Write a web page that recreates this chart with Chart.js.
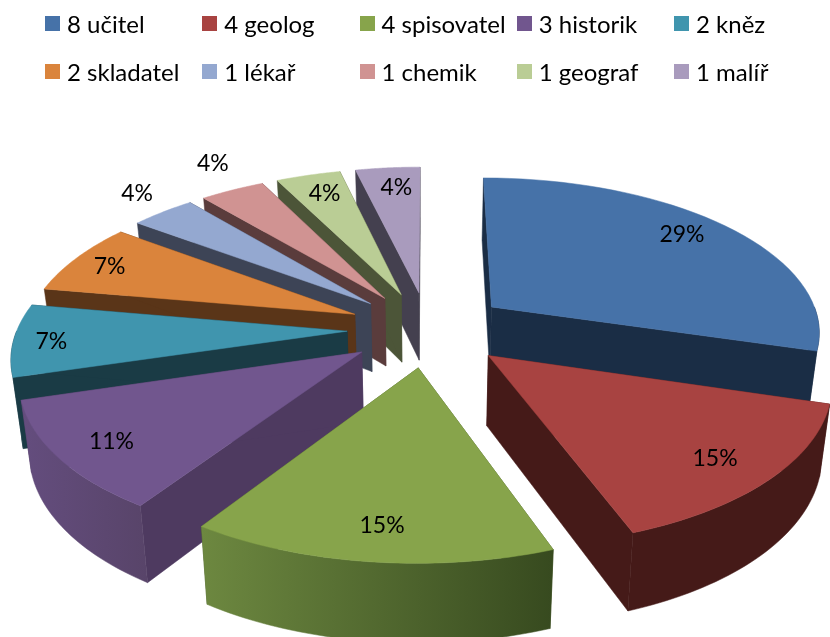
<!DOCTYPE html>
<html>
<head>
<meta charset="utf-8">
<style>
  body { margin: 0; background: #fff; }
  #wrap { position: relative; width: 830px; height: 637px; overflow: hidden; }
  #pie { position: absolute; left: 0; top: 0; }
  #legend { position: absolute; left: 45px; top: -1px; display: grid; grid-template-columns: repeat(5, 157.25px); grid-auto-rows: 48px;
    font: 24px Lato, sans-serif; color: #000; }
  #legend div { display: flex; align-items: center; white-space: nowrap; }
  #legend i { width: 15px; height: 15px; margin-right: 7px; flex: none; }
</style>
<script src="https://cdn.jsdelivr.net/npm/chart.js@4/dist/chart.umd.min.js"></script>
</head>
<body>
<div id="wrap">
  <canvas id="pie" width="830" height="637"></canvas>
  <div id="legend"></div>
</div>
<script>
// data
const categories = ['učitel', 'geolog', 'spisovatel', 'historik', 'kněz', 'skladatel', 'lékař', 'chemik', 'geograf', 'malíř'];
const counts = [8, 4, 4, 3, 2, 2, 1, 1, 1, 1];
const percentLabels = ['29%', '15%', '15%', '11%', '7%', '7%', '4%', '4%', '4%', '4%'];

// colours: top face, side walls, rim gradient left and right
const topColors = ['#4672A8', '#A84341', '#87A44B', '#71568E', '#4095AE', '#DA843C', '#94A8D0', '#D09392', '#BACD95', '#A99BBD'];
const wallColors = ['#1A2D45', '#451A18', '#445626', '#4E3A60', '#1A3B45', '#5A3518', '#3D4456', '#5A3C3C', '#4C5538', '#44404F'];
const rimLeft = ['#1A2D45', '#451A18', '#6D8840', '#644D7E', '#1A3B45', '#5A3518', '#3D4456', '#5A3C3C', '#4C5538', '#44404F'];
const rimRight = ['#1A2D45', '#451A18', '#374A1F', '#584469', '#1A3B45', '#5A3518', '#3D4456', '#5A3C3C', '#4C5538', '#44404F'];

// where each percent label sits: distance along the middle line and a small turn off it
const labelRadius = [0.835, 0.831, 0.836, 0.844, 0.886, 0.867, 1.183, 1.247, 0.825, 0.824];
const labelTurn = [-0.04, 0.014, -0.01, -0.014, -0.017, -0.015, 0.032, 0.043, 0.008, 0.016];

// view settings of the tilted pie
const explode = 0.245;
const widthScale = 1.071;
const tilt = 0.5;
const focal = 6.8;
const depth = 69;

// plane point (in radius units) -> screen, z = 1 is the bottom of the pie
function project(arc, u, v, z) {
  const s = 1 / (1 - v / focal);
  const x = u * arc.outerRadius * widthScale * s * (1 - 0.025 * z);
  const y = v * arc.outerRadius * tilt * s;
  return { x: arc.x + x, y: arc.y + y + z * (depth + 0.045 * y) };
}

function apexOf(arc) {
  const mid = (arc.startAngle + arc.endAngle) / 2;
  return { u: Math.cos(mid) * explode, v: Math.sin(mid) * explode, mid: mid };
}

function rimPoints(arc, a0, a1, z) {
  const c = apexOf(arc);
  const pts = [];
  for (let i = 0; i <= 40; i++) {
    const a = a0 + (a1 - a0) * i / 40;
    pts.push(project(arc, c.u + Math.cos(a), c.v + Math.sin(a), z));
  }
  return pts;
}

function fillPoly(ctx, pts, color) {
  ctx.beginPath();
  pts.forEach((p, i) => (i ? ctx.lineTo(p.x, p.y) : ctx.moveTo(p.x, p.y)));
  ctx.closePath();
  ctx.fillStyle = color;
  ctx.fill();
  ctx.strokeStyle = color;
  ctx.lineWidth = 0.5;
  ctx.stroke();
}

function drawSlice(ctx, arc, i) {
  const c = apexOf(arc);
  const topApex = project(arc, c.u, c.v, 0);
  const bottomApex = project(arc, c.u, c.v, 1);
  const topRim = rimPoints(arc, arc.startAngle, arc.endAngle, 0);
  const bottomRim = rimPoints(arc, arc.startAngle, arc.endAngle, 1);

  // radial walls
  fillPoly(ctx, [topApex, topRim[0], bottomRim[0], bottomApex], wallColors[i]);
  fillPoly(ctx, [topApex, topRim[40], bottomRim[40], bottomApex], wallColors[i]);

  // rim, only the part turned to the viewer
  const a0 = Math.max(arc.startAngle, 0);
  const a1 = Math.min(arc.endAngle, Math.PI);
  if (a1 > a0) {
    const upper = rimPoints(arc, a0, a1, 0);
    const lower = rimPoints(arc, a0, a1, 1).reverse();
    const xs = upper.concat(lower).map(p => p.x);
    const grad = ctx.createLinearGradient(Math.min(...xs), 0, Math.max(...xs), 0);
    grad.addColorStop(0, rimLeft[i]);
    grad.addColorStop(1, rimRight[i]);
    fillPoly(ctx, upper.concat(lower), grad);
  }

  // top face
  fillPoly(ctx, [topApex].concat(topRim), topColors[i]);
}

const pie3d = {
  id: 'pie3d',
  beforeDatasetsDraw(chart) {
    const ctx = chart.ctx;
    const arcs = chart.getDatasetMeta(0).data;
    const order = arcs.map((arc, i) => i).sort((a, b) => {
      const ca = apexOf(arcs[a]);
      const cb = apexOf(arcs[b]);
      return project(arcs[a], ca.u, ca.v, 0).y - project(arcs[b], cb.u, cb.v, 0).y;
    });
    order.forEach(i => drawSlice(ctx, arcs[i], i));

    // percent labels
    ctx.fillStyle = '#000';
    ctx.font = '23px Lato, sans-serif';
    ctx.textAlign = 'center';
    ctx.textBaseline = 'middle';
    arcs.forEach((arc, i) => {
      const c = apexOf(arc);
      const r = labelRadius[i];
      const a = c.mid + labelTurn[i];
      const p = project(arc, c.u + Math.cos(a) * r, c.v + Math.sin(a) * r, 0);
      ctx.fillText(percentLabels[i], p.x, p.y);
    });
    return false;
  },
};

new Chart(document.getElementById('pie'), {
  type: 'pie',
  data: {
    labels: categories.map((name, i) => counts[i] + ' ' + name),
    datasets: [{ data: counts, backgroundColor: topColors, borderWidth: 0 }],
  },
  options: {
    responsive: false,
    animation: false,
    layout: { padding: { left: 26, top: 21 } },
    plugins: { legend: { display: false }, tooltip: { enabled: false } },
  },
  plugins: [pie3d],
});

// legend in fixed columns
const legend = document.getElementById('legend');
categories.forEach((name, i) => {
  const item = document.createElement('div');
  const box = document.createElement('i');
  box.style.background = topColors[i];
  item.appendChild(box);
  item.appendChild(document.createTextNode(counts[i] + ' ' + name));
  legend.appendChild(item);
});
</script>
</body>
</html>
